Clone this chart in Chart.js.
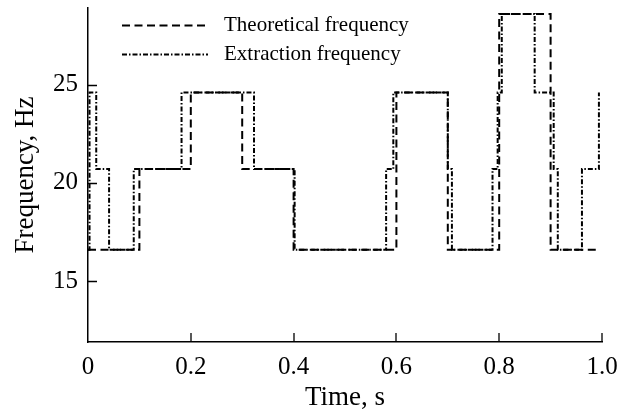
<!DOCTYPE html>
<html><head><meta charset="utf-8">
<script src="https://cdn.jsdelivr.net/npm/chart.js@4/dist/chart.umd.min.js"></script>
<style>html,body{margin:0;padding:0;background:#fff}#wrap{width:627px;height:410px}</style>
</head><body><div id="wrap"><canvas id="c" width="627" height="410"></canvas></div>
<script>
const theoTime = [0, 0.1, 0.2, 0.3, 0.4, 0.6, 0.7, 0.8, 0.9, 0.993];
const theoFreq = [16.6, 20.7, 24.6, 20.7, 16.6, 24.6, 16.6, 28.6, 16.6, 16.6];
const extrTime = [0, 0.003, 0.016, 0.041, 0.089, 0.182, 0.323, 0.402, 0.58, 0.594, 0.7, 0.708, 0.787, 0.797, 0.805, 0.869, 0.906, 0.914, 0.961, 0.994];
const extrFreq = [16.6, 24.6, 20.7, 16.6, 20.7, 24.6, 20.7, 16.6, 20.7, 24.6, 20.7, 16.6, 20.7, 24.6, 28.6, 24.6, 20.7, 16.6, 20.7, 24.6];
const xTickValues = [0, 0.2, 0.4, 0.6, 0.8, 1.0];
const xTickLabels = ['0', '0.2', '0.4', '0.6', '0.8', '1.0'];
const yTickValues = [15, 20, 25];
const yTickLabels = ['15', '20', '25'];
const seriesNames = ['Theoretical frequency', 'Extraction frequency'];

const SERIF = "'Liberation Serif', 'Times New Roman', serif";

function toPoints(xs, ys) { return xs.map((x, i) => ({ x: x, y: ys[i] })); }

const innerTicks = {
  id: 'innerTicks',
  afterDraw(chart) {
    const ctx = chart.ctx, a = chart.chartArea;
    const xs = chart.scales.x, ys = chart.scales.y;
    ctx.save();
    ctx.strokeStyle = '#000';
    ctx.lineWidth = 1.3;
    ctx.beginPath();
    yTickValues.forEach(v => {
      const p = Math.round(ys.getPixelForValue(v)) + 0.5;
      ctx.moveTo(a.left, p); ctx.lineTo(a.left + 9, p);
    });
    xTickValues.forEach(v => {
      if (v === 0) return;
      const p = Math.round(xs.getPixelForValue(v));
      ctx.moveTo(p, a.bottom); ctx.lineTo(p, a.bottom - 9);
    });
    ctx.stroke();
    ctx.restore();
  }
};

const innerLegend = {
  id: 'innerLegend',
  afterDraw(chart) {
    const ctx = chart.ctx;
    ctx.save();
    chart.data.datasets.forEach((ds, i) => {
      const y = 25 + i * 29;
      ctx.strokeStyle = '#000';
      ctx.lineWidth = ds.borderWidth;
      ctx.setLineDash(ds.borderDash);
      ctx.beginPath();
      ctx.moveTo(122, y + 0.5); ctx.lineTo(208, y + 0.5);
      ctx.stroke();
      ctx.setLineDash([]);
      ctx.fillStyle = '#000';
      ctx.font = "21px " + SERIF;
      ctx.textBaseline = 'middle';
      ctx.textAlign = 'left';
      ctx.fillText(ds.label, 224, y);
    });
    ctx.restore();
  }
};

new Chart(document.getElementById('c'), {
  type: 'scatter',
  data: {
    datasets: [
      {
        label: seriesNames[0],
        data: toPoints(theoTime, theoFreq),
        showLine: true, stepped: 'before',
        borderColor: '#000', borderWidth: 2, borderDash: [8, 4.5],
        pointRadius: 0, fill: false
      },
      {
        label: seriesNames[1],
        data: toPoints(extrTime, extrFreq),
        showLine: true, stepped: 'before',
        borderColor: '#000', borderWidth: 2, borderDash: [5, 2, 1.5, 2],
        pointRadius: 0, fill: false
      }
    ]
  },
  options: {
    responsive: false,
    animation: false,
    devicePixelRatio: 1,
    layout: { padding: { top: 8, right: 25, left: 0, bottom: 0 } },
    plugins: { legend: { display: false }, tooltip: { enabled: false } },
    scales: {
      x: {
        type: 'linear', min: 0, max: 1,
        afterBuildTicks: s => { s.ticks = xTickValues.map(v => ({ value: v })); },
        afterFit: s => { s.height = 68; s.paddingLeft = 0; s.paddingRight = 0; },
        ticks: {
          callback: (v, i) => xTickLabels[i],
          font: { family: SERIF, size: 25 }, color: '#000', padding: 10, maxRotation: 0
        },
        grid: { display: false, drawTicks: false },
        border: { display: true, color: '#000', width: 1.5 },
        title: { display: true, text: 'Time, s', color: '#000', font: { family: SERIF, size: 27 }, padding: { top: 0, bottom: -4 } }
      },
      y: {
        type: 'linear', min: 11.9, max: 28.9,
        afterBuildTicks: s => { s.ticks = yTickValues.map(v => ({ value: v })); },
        afterFit: s => { s.width = 88; s.paddingTop = 0; s.paddingBottom = 0; },
        ticks: {
          callback: (v, i) => yTickLabels[i],
          font: { family: SERIF, size: 25 }, color: '#000', padding: 10
        },
        grid: { display: false, drawTicks: false },
        border: { display: true, color: '#000', width: 1.5 },
        title: { display: true, text: 'Frequency, Hz', color: '#000', font: { family: SERIF, size: 27 }, padding: { top: 10, bottom: 0 } }
      }
    }
  },
  plugins: [innerTicks, innerLegend]
});
</script>
</body></html>
